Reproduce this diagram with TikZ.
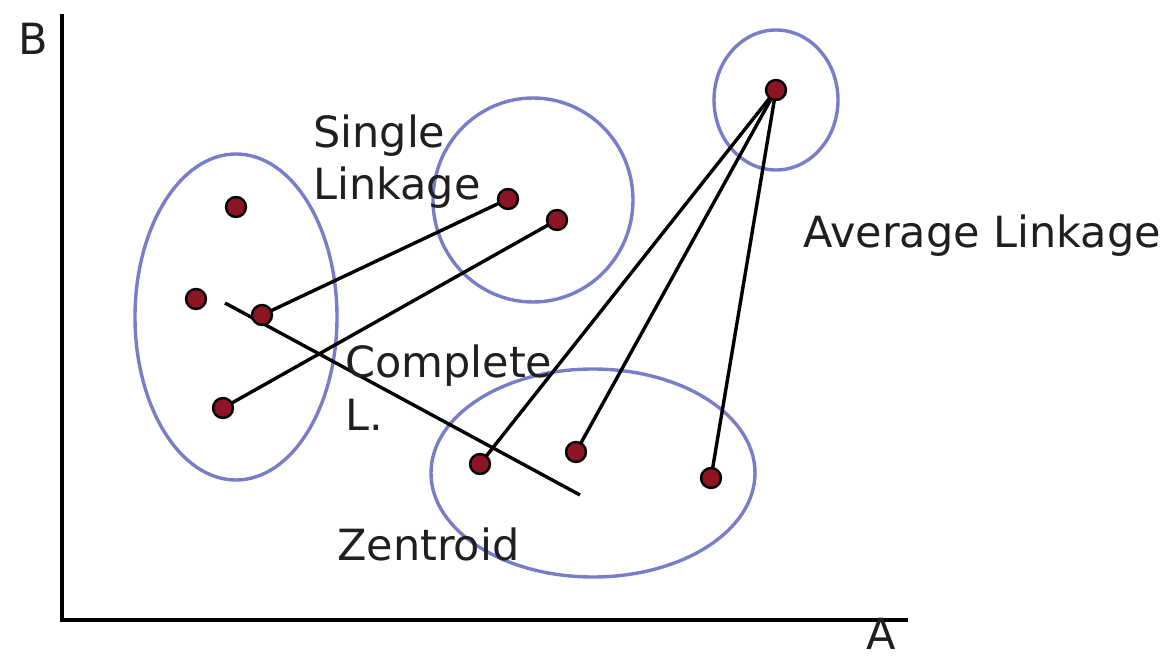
\documentclass[tikz,border=0pt]{standalone}
\usepackage{fontspec}
\setmainfont{DejaVu Sans}
\begin{document}
\begin{tikzpicture}[x=1pt,y=-1pt,
  dot/.style={circle,draw=black,line width=2.4pt,fill=dotred,minimum size=20pt,inner sep=0pt},
  clus/.style={draw=clusblue,line width=3.4pt},
  link/.style={draw=black,line width=3.4pt},
  axis/.style={draw=black,line width=3.6pt},
  lbl/.style={inner sep=0pt,anchor=base west,font=\fontsize{43}{52}\selectfont,text=black!88}]
\definecolor{dotred}{RGB}{140,20,35}
\definecolor{clusblue}{RGB}{120,125,200}
\useasboundingbox (0,0) rectangle (1165,658);
% axes
\coordinate (ytop) at (62,14);
\coordinate (orig) at (62,620);
\coordinate (xend) at (908,620);
\draw[axis] (ytop) -- (orig) -- (xend);
\node[lbl] (labB) at (18,55) {B};
\node[lbl] (labA) at (866,649) {A};
% clusters
\draw[clus] (236,317) ellipse [x radius=101, y radius=163];
\draw[clus] (533,200) ellipse [x radius=100, y radius=102];
\draw[clus] (776,100) ellipse [x radius=62, y radius=70];
\draw[clus] (593,473) ellipse [x radius=162, y radius=104];
% points
\coordinate (p1) at (236,207);
\coordinate (p2) at (196,299);
\coordinate (p3) at (262,315);
\coordinate (p4) at (223,408);
\coordinate (p5) at (508,199);
\coordinate (p6) at (557,220);
\coordinate (p7) at (776,90);
\coordinate (p8) at (480,464);
\coordinate (p9) at (576,452);
\coordinate (p10) at (711,478);
\coordinate (cs) at (225,303);
\coordinate (ce) at (580,495);
% links
\draw[link] (p3) -- (p5);
\draw[link] (p4) -- (p6);
\draw[link] (cs) -- (ce);
\draw[link] (p7) -- (p8);
\draw[link] (p7) -- (p9);
\draw[link] (p7) -- (p10);
% dots
\foreach \p in {p1,p2,p3,p4,p5,p6,p7,p8,p9,p10}
  \node[dot] (d\p) at (\p) {};
% labels
\node[lbl] (single) at (313,148) {Single};
\node[lbl] (linkage) at (313,200) {Linkage};
\node[lbl] (complete) at (345,377) {Complete};
\node[lbl] (compl) at (345,430) {L.};
\node[lbl] (zent) at (337,560) {Zentroid};
\node[lbl] (avg) at (803,247) {Average Linkage};
\end{tikzpicture}
\end{document}
